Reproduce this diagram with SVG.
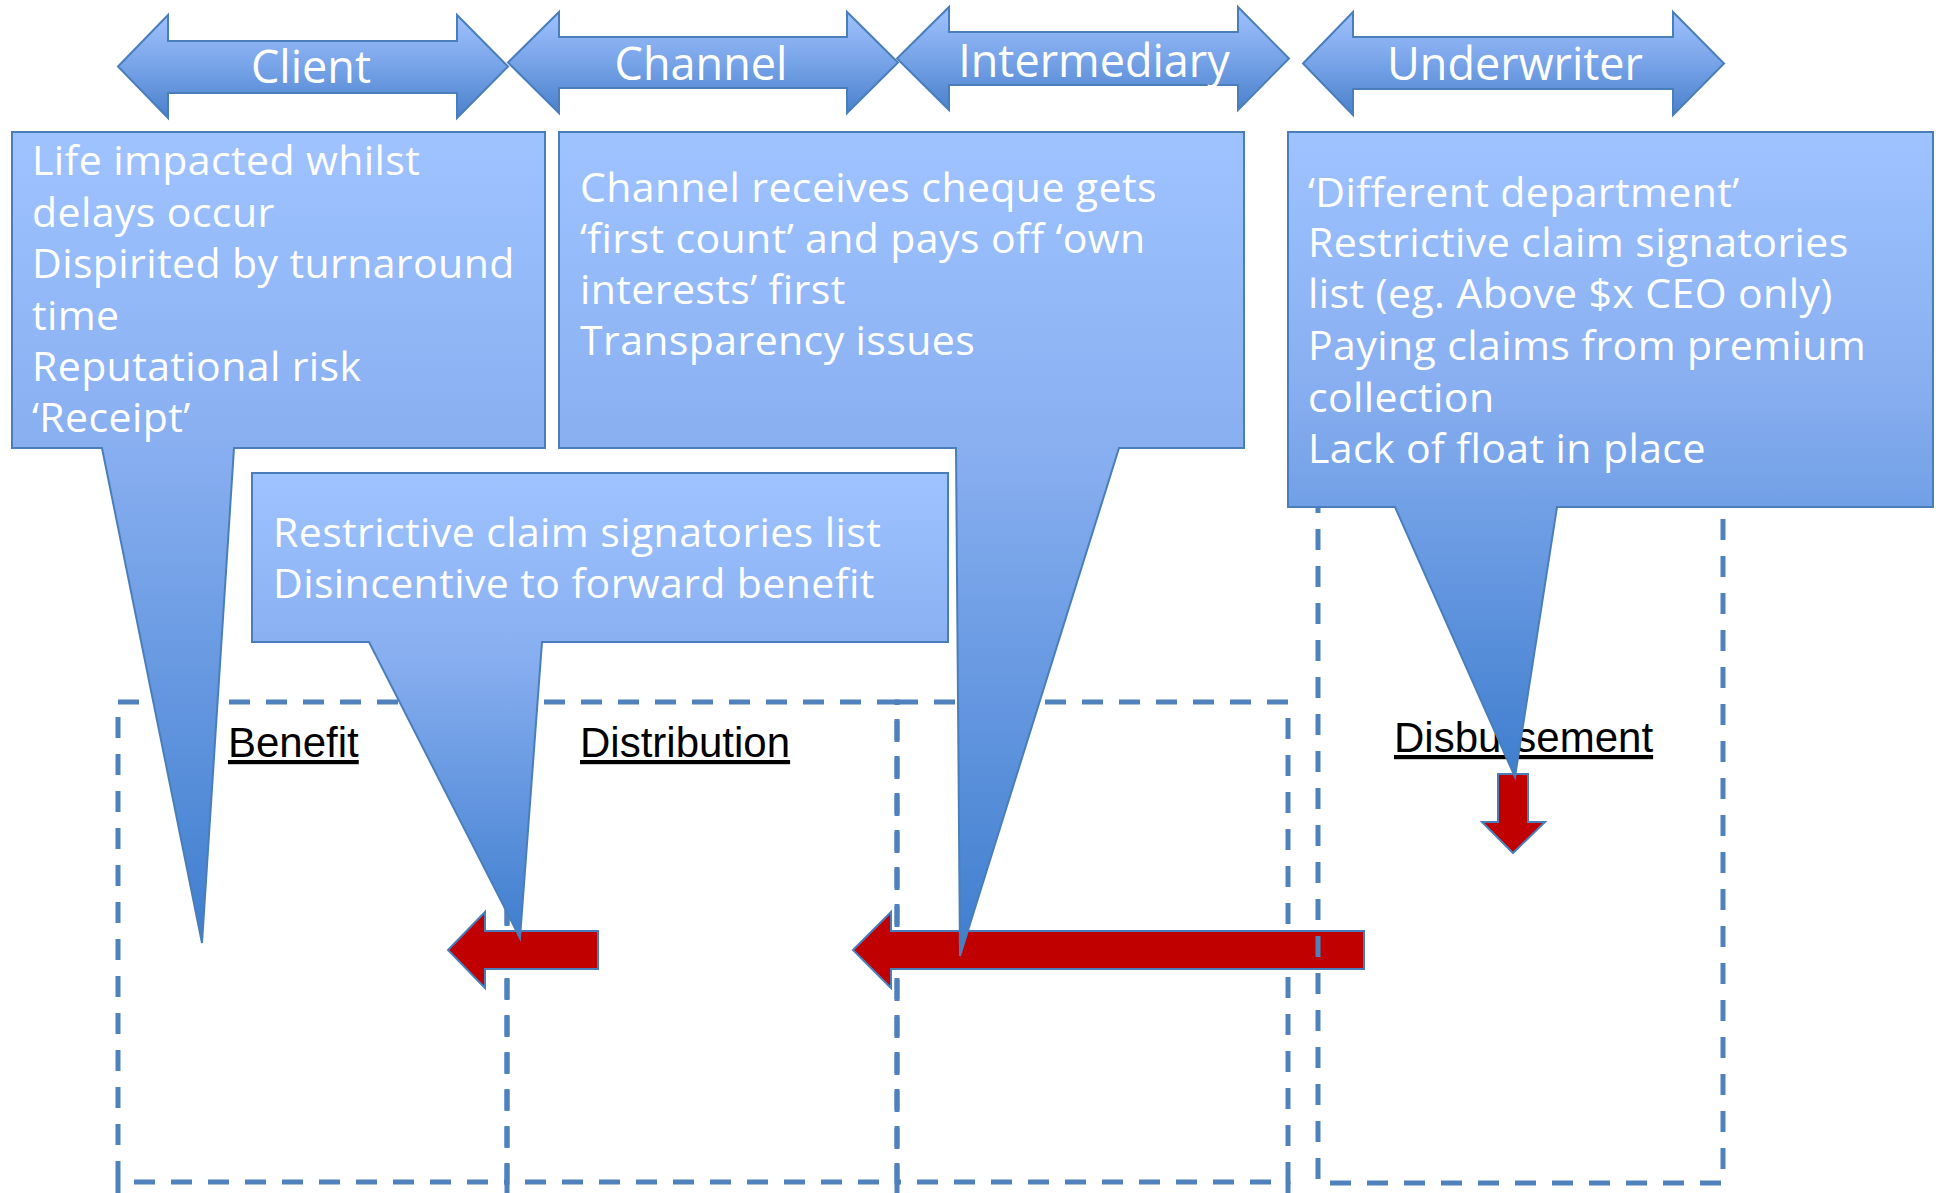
<svg xmlns="http://www.w3.org/2000/svg" width="1936" height="1193" viewBox="0 0 1936 1193">
<defs>
<linearGradient id="gBox" x1="0" y1="0" x2="0" y2="1">
<stop offset="0" stop-color="#9FC3FF"/>
<stop offset="0.4" stop-color="#87AEF0"/>
<stop offset="1" stop-color="#3F7ECE"/>
</linearGradient>
<linearGradient id="gArrow" x1="0" y1="0" x2="0" y2="1">
<stop offset="0" stop-color="#A0C2FD"/>
<stop offset="0.5" stop-color="#77A3E8"/>
<stop offset="1" stop-color="#4A81CC"/>
</linearGradient>
<style>
.dash{fill:none;stroke:#4F81BD;stroke-width:5;stroke-dasharray:21 16}
.callout{fill:url(#gBox);stroke:#4A7EBB;stroke-width:2}
.hdr{fill:url(#gArrow);stroke:#4A7EBB;stroke-width:2}
.red{fill:#C00000;stroke:#4A7EBB;stroke-width:2}
.hdrtxt{font-family:"Open Sans","DejaVu Sans",sans-serif;font-size:45px;fill:#FFFFFF;text-anchor:middle}
.body{font-family:"Open Sans","DejaVu Sans",sans-serif;font-size:41px;letter-spacing:0.4px;fill:#FFFFFF}
.lbl{font-family:"Liberation Sans",Arial,sans-serif;font-size:42px;fill:#000000;text-decoration:underline}
</style>
</defs>
<rect width="1936" height="1193" fill="#FFFFFF"/>

<g id="stage-benefit">
<rect class="dash" x="118" y="702" width="389" height="480"/>
<line class="dash" x1="118" y1="1182" x2="118" y2="1200"/>
</g>
<g id="stage-distribution">
<rect class="dash" x="507" y="702" width="390" height="480"/>
<line class="dash" x1="507" y1="1182" x2="507" y2="1200"/>
</g>
<g id="stage-intermediary">
<rect class="dash" x="897" y="702" width="391" height="480"/>
<line class="dash" x1="897" y1="1182" x2="897" y2="1200"/>
<line class="dash" x1="1288" y1="1182" x2="1288" y2="1200"/>
</g>

<g id="connectors">
<path class="red" d="M448,950 L485,912 V931 H598 V969 H485 V988 Z"/>
<path class="red" d="M853,950 L891,912 V931 H1364 V969 H891 V988 Z"/>
</g>

<g id="stage-disbursement">
<rect class="dash" x="1318" y="480" width="405" height="703"/>
</g>

<g id="hdr-client">
<path class="hdr" d="M118,66.5 L168,15 V41 H457 V15 L508,66.5 L457,118 V93 H168 V118 Z"/>
<text class="hdrtxt" x="311" y="83">Client</text>
</g>
<g id="hdr-channel">
<path class="hdr" d="M508,62.5 L559,12 V37 H847 V12 L898,62.5 L847,113 V88 H559 V113 Z"/>
<text class="hdrtxt" x="701" y="80">Channel</text>
</g>
<g id="hdr-intermediary">
<path class="hdr" d="M897,58.5 L949,7 V32 H1238 V7 L1289,58.5 L1238,110 V85 H949 V110 Z"/>
<text class="hdrtxt" x="1094" y="77">Intermediary</text>
</g>
<g id="hdr-underwriter">
<path class="hdr" d="M1303,63.5 L1353,12 V37 H1673 V12 L1724,63.5 L1673,115 V89 H1353 V115 Z"/>
<text class="hdrtxt" x="1515" y="80">Underwriter</text>
</g>

<g id="labels">
<text class="lbl" x="228" y="757">Benefit</text>
<text class="lbl" x="580" y="757">Distribution</text>
<text class="lbl" x="1394" y="752">Disbursement</text>
</g>

<g id="connector-down">
<path class="red" d="M1498,774 H1528 V822 H1545 L1513,853 L1482,822 H1498 Z"/>
</g>

<g id="callout-client">
<path class="callout" d="M12,132 H545 V448 H234 L202,943 L102,448 H12 Z"/>
<text class="body" x="32" y="175">Life impacted whilst</text>
<text class="body" x="32" y="227">delays occur</text>
<text class="body" x="32" y="278">Dispirited by turnaround</text>
<text class="body" x="32" y="330">time</text>
<text class="body" x="32" y="381">Reputational risk</text>
<text class="body" x="32" y="432">‘Receipt’</text>
</g>

<g id="callout-channel">
<path class="callout" d="M559,132 H1244 V448 H1119 L960,956 L956,448 H559 Z"/>
<text class="body" x="580" y="202">Channel receives cheque gets</text>
<text class="body" x="580" y="253">‘first count’ and pays off ‘own</text>
<text class="body" x="580" y="304">interests’ first</text>
<text class="body" x="580" y="355">Transparency issues</text>
</g>

<g id="callout-distribution">
<path class="callout" d="M252,473 H948 V642 H542 L520,938 L369,642 H252 Z"/>
<text class="body" x="273" y="547">Restrictive claim signatories list</text>
<text class="body" x="273" y="598">Disincentive to forward benefit</text>
</g>

<g id="callout-underwriter">
<path class="callout" d="M1288,132 H1933 V507 H1557 L1515,777 L1395,507 H1288 Z"/>
<text class="body" x="1308" y="207">‘Different department’</text>
<text class="body" x="1308" y="257">Restrictive claim signatories</text>
<text class="body" x="1308" y="308">list (eg. Above $x CEO only)</text>
<text class="body" x="1308" y="360">Paying claims from premium</text>
<text class="body" x="1308" y="412">collection</text>
<text class="body" x="1308" y="463">Lack of float in place</text>
</g>
</svg>
